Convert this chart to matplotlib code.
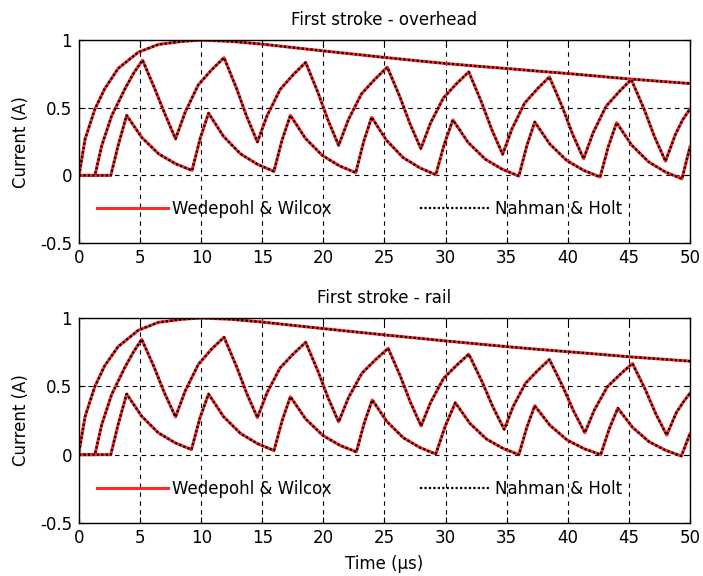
import matplotlib
matplotlib.use("Agg")
import matplotlib.pyplot as plt

plt.rcParams['font.family'] = ['DejaVu Sans']

# top curve (same shape in both panels)
t_a = [0, 0.5, 1.3, 2.1, 3.2, 4.85, 6.5, 8.4, 10, 12.5, 15, 17.5, 20, 22.5,
       25, 27.5, 30, 32.5, 35, 37.5, 40, 42.5, 45, 47.5, 50]
a_over = [0, 0.27, 0.49, 0.64, 0.79, 0.91, 0.968, 0.99, 1.0, 0.99, 0.97, 0.945, 0.92, 0.896,
          0.872, 0.849, 0.827, 0.808, 0.79, 0.771, 0.753, 0.733, 0.713, 0.696, 0.679]
a_rail = [0.02, 0.28, 0.5, 0.65, 0.79, 0.91, 0.968, 0.99, 1.0, 0.99, 0.97, 0.946, 0.922, 0.899,
          0.876, 0.854, 0.832, 0.811, 0.79, 0.771, 0.753, 0.735, 0.716, 0.7, 0.684]

# middle curve
t_b_over = [0, 1.3, 1.86, 2.67, 3.76, 4.5, 5.2, 6.2, 7.05, 7.9,
            8.7, 9.77, 10.85, 11.87, 12.88, 13.73, 14.6,
            15.39, 16.46, 17.56, 18.55, 19.55, 20.39, 21.25,
            22.05, 23.12, 24.24, 25.23, 26.25, 27.1, 27.98,
            28.76, 29.82, 30.92, 31.9, 32.92, 33.78, 34.67,
            35.44, 36.47, 37.54, 38.5, 39.54, 40.4, 41.3,
            42.08, 43.13, 44.23, 45.2, 46.24, 47.1, 48.0,
            48.8, 49.4, 50]
b_over = [0, 0, 0.22, 0.44, 0.64, 0.76, 0.852, 0.64, 0.45, 0.27,
          0.47, 0.67, 0.78, 0.87, 0.646, 0.434, 0.247,
          0.441, 0.635, 0.747, 0.835, 0.614, 0.406, 0.222,
          0.413, 0.603, 0.713, 0.80, 0.583, 0.379, 0.198,
          0.385, 0.572, 0.68, 0.765, 0.546, 0.339, 0.156,
          0.345, 0.534, 0.642, 0.728, 0.51, 0.304, 0.123,
          0.316, 0.51, 0.621, 0.709, 0.492, 0.286, 0.105,
          0.3, 0.41, 0.49]

t_b_rail = [0, 1.3, 1.86, 2.67, 3.76, 4.45, 5.13, 6.15, 7.0, 7.9,
            8.7, 9.77, 10.85, 11.87, 12.88, 13.73, 14.6,
            15.39, 16.46, 17.56, 18.55, 19.55, 20.39, 21.25,
            22.06, 23.15, 24.29, 25.3, 26.3, 27.14, 28.0,
            28.78, 29.83, 30.93, 31.9, 32.97, 33.87, 34.8,
            35.54, 36.54, 37.58, 38.5, 39.57, 40.47, 41.4,
            42.18, 43.23, 44.33, 45.3, 46.34, 47.2, 48.1,
            48.9, 49.5, 50]
b_rail = [0, 0, 0.22, 0.44, 0.64, 0.75, 0.844, 0.64, 0.45, 0.276,
          0.468, 0.661, 0.772, 0.859, 0.647, 0.447, 0.271,
          0.453, 0.635, 0.739, 0.822, 0.612, 0.415, 0.24,
          0.418, 0.595, 0.697, 0.778, 0.574, 0.38, 0.21,
          0.383, 0.557, 0.656, 0.735, 0.537, 0.35, 0.185,
          0.354, 0.522, 0.619, 0.696, 0.503, 0.321, 0.16,
          0.327, 0.495, 0.591, 0.667, 0.478, 0.3, 0.143,
          0.31, 0.39, 0.449]

# lower curve
t_c_over = [0, 2.6, 3.2, 3.9, 5.13, 6.52, 7.9, 9.25, 9.92, 10.6,
            11.83, 13.22, 14.6, 15.95, 16.62, 17.3,
            18.53, 19.92, 21.31, 22.65, 23.3, 23.95,
            25.16, 26.52, 27.89, 29.2, 29.9, 30.6,
            31.84, 33.25, 34.65, 36.0, 36.65, 37.3,
            38.53, 39.92, 41.31, 42.65, 43.32, 44.0,
            45.23, 46.62, 48.0, 49.35, 50]
c_over = [0, 0, 0.22, 0.444, 0.281, 0.159, 0.086, 0.037, 0.274, 0.46,
          0.288, 0.159, 0.082, 0.03, 0.262, 0.444,
          0.274, 0.147, 0.071, 0.02, 0.25, 0.43,
          0.26, 0.132, 0.056, 0.005, 0.232, 0.41,
          0.244, 0.12, 0.045, -0.005, 0.219, 0.395,
          0.232, 0.11, 0.037, -0.012, 0.213, 0.39,
          0.224, 0.1, 0.025, -0.025, 0.21]

t_c_rail = [0, 2.6, 3.2, 3.9, 5.13, 6.5, 7.88, 9.2, 9.9, 10.6,
            11.83, 13.23, 14.62, 15.96, 16.63, 17.3,
            18.54, 19.95, 21.35, 22.7, 23.35, 24.0,
            25.2, 26.55, 27.9, 29.2, 30.0, 30.8,
            32.0, 33.35, 34.7, 36.0, 36.65, 37.3,
            38.54, 39.95, 41.35, 42.7, 43.4, 44.1,
            45.3, 46.65, 48.0, 49.3, 50]
c_rail = [0, 0, 0.22, 0.444, 0.281, 0.159, 0.086, 0.037, 0.27, 0.444,
          0.278, 0.154, 0.08, 0.03, 0.251, 0.424,
          0.262, 0.141, 0.068, 0.02, 0.233, 0.40,
          0.242, 0.123, 0.052, 0.005, 0.215, 0.38,
          0.228, 0.114, 0.046, 0.0, 0.2, 0.358,
          0.215, 0.107, 0.043, 0.0, 0.19, 0.34,
          0.2, 0.095, 0.032, -0.01, 0.153]

titles = ["First stroke - overhead", "First stroke - rail"]
labels = ["Wedepohl & Wilcox", "Nahman & Holt"]
xticks = [0, 5, 10, 15, 20, 25, 30, 35, 40, 45, 50]
yticks = [-0.5, 0, 0.5, 1]
ytick_labels = ["-0.5", "0", "0.5", "1"]

panels = [
    [(t_a, a_over), (t_b_over, b_over), (t_c_over, c_over)],
    [(t_a, a_rail), (t_b_rail, b_rail), (t_c_rail, c_rail)],
]

fig = plt.figure(figsize=(7.03, 5.76), dpi=100)
boxes = [[0.1124, 0.578, 0.869, 0.3524], [0.1124, 0.092, 0.869, 0.356]]

for k in range(2):
    ax = fig.add_axes(boxes[k])
    for i, (tt, yy) in enumerate(panels[k]):
        ax.plot(tt, yy, color='#ff2a2a', lw=2.2, solid_joinstyle='round',
                label=labels[0] if i == 0 else None)
        ax.plot(tt, yy, color='black', lw=1.6, linestyle=(0, (1, 1)),
                label=labels[1] if i == 0 else None)
    ax.set_xlim(0, 50)
    ax.set_ylim(-0.5, 1)
    ax.set_xticks(xticks)
    ax.set_yticks(yticks)
    ax.set_yticklabels(ytick_labels)
    ax.tick_params(direction='in', length=4, labelsize=12, top=True, right=True)
    ax.tick_params(axis='x', pad=4)
    ax.tick_params(axis='y', pad=5)
    ax.grid(True, color='black', linestyle=(0, (4, 4)), linewidth=0.8)
    ax.set_title(titles[k], fontsize=12, pad=11)
    ax.set_ylabel("Current (A)", fontsize=12, labelpad=7)
    for s in ax.spines.values():
        s.set_linewidth(1.0)
    ax.legend(loc='center', bbox_to_anchor=(0.46, 0.167), ncol=2, frameon=False,
              handlelength=4.25, handletextpad=0.25, columnspacing=5.3, fontsize=12)

ax.set_xlabel("Time (µs)", fontsize=12, labelpad=6)

fig.savefig("out.png", dpi=100)
